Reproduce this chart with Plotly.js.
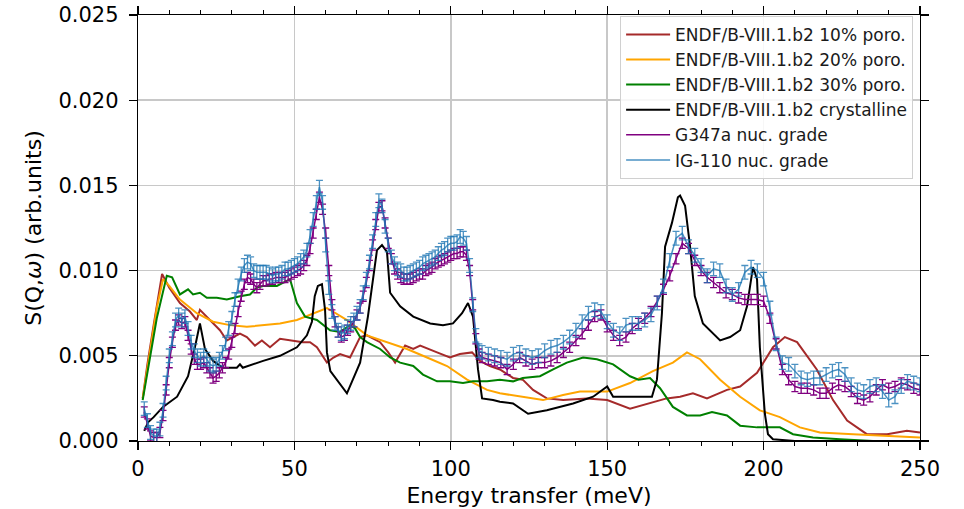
<!DOCTYPE html>
<html>
<head>
<meta charset="utf-8">
<script src="https://cdn.plot.ly/plotly-3.0.1.min.js"></script>
<style>html,body{margin:0;padding:0;background:#fff;}#chart{width:964px;height:509px;}</style>
</head>
<body>
<div id="chart"></div>
<script>
// ---------- Data ----------
const expEnergy = [2,3,4,5,6,7,8,9,10,11,12,13,14,15,16,17,18,19,20,21,22,23,24,25,26,27,28,29,30,
  31,32,33,34,35,36,37,38,39,40,41,42,43,44,45,46,47,48,49,50,51,52,53,54,55,56,57,58,59,60,
  61,62,63,64,65,66,67,68,69,70,71,72,73,74,75,76,77,78,79,80,81,82,83,84,85,86,87,88,89,90,
  91,92,93,94,95,96,97,98,99,100,101,102,103,104,105,106,107,108,109,110,
  112,114,116,118,120,122,124,126,128,130,132,134,136,138,140,142,144,146,148,150,
  152,154,156,158,160,162,164,166,168,170,172,174,176,178,180,182,184,186,188,190,
  192,194,196,198,200,202,204,206,208,210,212,214,216,218,220,222,224,226,228,230,
  232,234,236,238,240,242,244,246,248,250];

const ig110 = [0.0019,0.0012,0.0005,0.0003,0.0003,0.0007,0.0018,0.0034,0.0050,0.0060,0.0071,0.0074,0.0071,0.0073,0.0066,0.0058,0.0053,0.0050,0.0048,
  0.0050,0.0048,0.0045,0.0044,0.0045,0.0048,0.0052,0.0057,0.0066,0.0072,
  0.0083,0.0091,0.0098,0.0103,0.0105,0.0104,0.0100,0.0099,0.0099,0.0099,
  0.0099,0.0098,0.0097,0.0098,0.0098,0.0099,0.0101,0.0101,0.0102,0.0103,
  0.0104,0.0106,0.0108,0.0112,0.0120,0.0130,0.0140,0.0149,0.0140,0.0115,
  0.0090,0.0076,0.0069,0.0065,0.0063,0.0064,0.0067,0.0069,0.0071,0.0075,
  0.0079,0.0087,0.0095,0.0105,0.0117,0.0130,0.0141,0.0138,0.0126,0.0115,
  0.0108,0.0104,0.0101,0.0100,0.0098,0.0098,0.0099,0.0100,0.0101,0.0102,
  0.0104,0.0105,0.0106,0.0107,0.0108,0.0110,0.0112,0.0113,0.0115,0.0116,
  0.0116,0.0117,0.0120,0.0119,0.0116,0.0103,0.0080,0.0062,0.0053,0.0052,
  0.0051,0.0050,0.0049,0.0048,0.0051,0.0052,0.0050,0.0049,0.0050,0.0053,
  0.0055,0.0056,0.0058,0.0061,0.0065,0.0070,0.0075,0.0077,0.0076,0.0070,
  0.0065,0.0063,0.0068,0.0069,0.0069,0.0071,0.0074,0.0081,0.0091,0.0106,
  0.0119,0.0122,0.0114,0.0109,0.0103,0.0097,0.0101,0.0100,0.0091,0.0086,
  0.0089,0.0099,0.0102,0.0100,0.0095,0.0078,0.0057,0.0046,0.0045,0.0041,
  0.0037,0.0036,0.0037,0.0037,0.0039,0.0041,0.0042,0.0039,0.0033,0.0030,
  0.0029,0.0032,0.0033,0.0029,0.0024,0.0026,0.0032,0.0035,0.0034,0.0033];

const g347a = [0.0017,0.0010,0.0003,0.0002,0.0002,0.0005,0.0015,0.0030,0.0046,0.0058,0.0068,0.0071,0.0069,0.0070,0.0062,0.0054,0.0048,0.0045,0.0045,
  0.0046,0.0043,0.0040,0.0037,0.0038,0.0040,0.0043,0.0046,0.0051,0.0058,
  0.0066,0.0076,0.0085,0.0092,0.0096,0.0095,0.0092,0.0090,0.0092,0.0094,
  0.0094,0.0095,0.0095,0.0096,0.0096,0.0096,0.0096,0.0097,0.0098,0.0099,
  0.0100,0.0101,0.0103,0.0106,0.0113,0.0122,0.0133,0.0143,0.0136,0.0122,
  0.0100,0.0080,0.0070,0.0064,0.0061,0.0062,0.0065,0.0067,0.0070,0.0074,
  0.0078,0.0085,0.0093,0.0103,0.0115,0.0127,0.0137,0.0138,0.0128,0.0116,
  0.0107,0.0101,0.0098,0.0096,0.0095,0.0095,0.0095,0.0096,0.0097,0.0098,
  0.0098,0.0100,0.0101,0.0102,0.0104,0.0105,0.0106,0.0107,0.0108,0.0109,
  0.0110,0.0110,0.0111,0.0111,0.0109,0.0100,0.0080,0.0060,0.0051,0.0049,
  0.0048,0.0047,0.0046,0.0042,0.0045,0.0049,0.0047,0.0045,0.0046,0.0046,
  0.0047,0.0049,0.0052,0.0055,0.0059,0.0063,0.0068,0.0073,0.0074,0.0067,
  0.0062,0.0059,0.0061,0.0066,0.0069,0.0072,0.0076,0.0082,0.0089,0.0097,
  0.0107,0.0116,0.0113,0.0106,0.0100,0.0096,0.0093,0.0090,0.0087,0.0086,
  0.0084,0.0083,0.0083,0.0083,0.0082,0.0072,0.0057,0.0042,0.0036,0.0032,
  0.0031,0.0031,0.0030,0.0028,0.0028,0.0031,0.0033,0.0032,0.0029,0.0025,
  0.0024,0.0026,0.0030,0.0033,0.0031,0.0032,0.0034,0.0033,0.0031,0.0030];

const ig110Err = 0.0004;
const g347aErr = 0.0003;

const poro10E = [1.5,3,5,7.7,10,13.4,16.6,18.8,19.8,23,26.2,28.4,30.4,32.6,34.8,37.4,39.6,42.2,45.4,48.6,52.7,55,57.2,60.4,62.5,64.6,67.8,71,73.2,77.4,80,82.2,85.4,88,90.2,95.6,99.7,102.9,106.8,109.3,112.5,115.7,119.9,123,126.3,130.7,135.9,143.5,150,157.3,164.6,169,173.3,177.4,181.9,188.3,192.5,197.9,203,206.8,210.7,217,222.2,226.7,233,239.5,245.8,250];
const poro10S = [0.0025,0.0045,0.0068,0.0098,0.0090,0.0081,0.0076,0.0071,0.0077,0.0071,0.0065,0.0059,0.0061,0.0063,0.0061,0.0056,0.0059,0.0055,0.0060,0.0059,0.0058,0.0058,0.0055,0.0046,0.0049,0.0051,0.0049,0.0061,0.0062,0.0058,0.0052,0.0046,0.0056,0.0054,0.0056,0.0052,0.0049,0.0051,0.0052,0.0047,0.0044,0.0042,0.0037,0.0036,0.0030,0.0025,0.0024,0.0025,0.0024,0.0019,0.0023,0.0025,0.0026,0.0028,0.0025,0.0030,0.0032,0.0040,0.0055,0.0061,0.0058,0.0042,0.0024,0.0012,0.0004,0.0004,0.0006,0.0005];

const poro20E = [1.5,4,6,8,10,13.4,18.8,24,29.4,34.8,40,45.4,50.8,56,60.4,62.3,66.8,73.2,79.6,86,92.4,98.8,105.2,111.6,115.7,122.1,129.5,135.9,141.3,150,157.3,164.6,171,175.5,179.7,186.1,192.5,198.8,205.2,211.6,218,228.6,241.4,250];
const poro20S = [0.0025,0.0055,0.0078,0.0095,0.0091,0.0083,0.0075,0.0070,0.0068,0.0067,0.0068,0.0069,0.0071,0.0075,0.0078,0.0076,0.0071,0.0062,0.0058,0.0054,0.0049,0.0044,0.0036,0.0030,0.0028,0.0026,0.0024,0.0027,0.0029,0.0029,0.0034,0.0041,0.0046,0.0052,0.0048,0.0036,0.0026,0.0018,0.0014,0.0008,0.0005,0.0004,0.0003,0.0002];

const poro30E = [1.5,4,6,9.2,10.9,13.4,16,17.6,19.8,22,25.2,28.4,32.6,35.8,38,40,44.4,48.6,50.8,53.4,57.2,61.4,64.6,67.8,69.4,71,73.2,77.4,80.6,83.8,88,91.1,95.6,99.7,103.9,107.1,111.6,115.7,119.9,123,128.5,132.7,137.1,142.3,146.7,151.9,157.3,160,163.7,166.9,171,175.5,179.7,183.5,188.3,192.5,197.9,201.1,205.2,209.4,215.8,224.4,235,250];
const poro30S = [0.0024,0.0050,0.0072,0.0097,0.0096,0.0086,0.0089,0.0086,0.0087,0.0084,0.0084,0.0083,0.0085,0.0086,0.0090,0.0091,0.0091,0.0095,0.0081,0.0073,0.0071,0.0065,0.0064,0.0068,0.0066,0.0061,0.0058,0.0054,0.0049,0.0046,0.0044,0.0039,0.0035,0.0035,0.0034,0.0035,0.0035,0.0036,0.0035,0.0037,0.0038,0.0042,0.0046,0.0049,0.0048,0.0045,0.0038,0.0036,0.0037,0.0031,0.0020,0.0015,0.0015,0.0017,0.0015,0.0009,0.0008,0.0008,0.0008,0.0004,0.0002,0.0001,0.0000,0.0000];

const crystE = [2,3.2,5,8,12.5,16,18.2,19.8,21.4,24,27.2,31.6,32.6,33.5,40,45.4,50.8,54,55.6,56.5,57.5,58.8,59.8,60.4,61.5,66.8,71,73.5,76.4,78,79.6,80.6,83.8,88,93.4,97.5,100.7,103.6,105.5,107.1,108.7,110,113.5,115.7,119.9,124.7,130.7,139.1,145.5,150,151.9,158.2,164.3,165.9,167.5,168.5,170.7,172.6,173.3,174.9,176.5,178,180.6,186.1,189.3,192.5,194.7,196.6,197.9,198.8,200.4,201.4,203,210,250];
const crystS = [0.0006,0.0011,0.0014,0.0020,0.0026,0.0038,0.0055,0.0069,0.0054,0.0047,0.0043,0.0043,0.0045,0.0043,0.0047,0.0050,0.0055,0.0062,0.0070,0.0085,0.0091,0.0092,0.0077,0.0052,0.0041,0.0028,0.0046,0.0073,0.0112,0.0115,0.0111,0.0087,0.0079,0.0073,0.0069,0.0068,0.0069,0.0075,0.0081,0.0073,0.0042,0.0025,0.0024,0.0023,0.0022,0.0016,0.0018,0.0022,0.0026,0.0032,0.0026,0.0026,0.0026,0.0036,0.0075,0.0114,0.0128,0.0143,0.0144,0.0138,0.0114,0.0085,0.0069,0.0059,0.0061,0.0065,0.0079,0.0102,0.0095,0.0055,0.0016,0.0004,0.0001,0.0000,0.0000];

const seriesNames = ['ENDF/B-VIII.1.b2 10% poro.','ENDF/B-VIII.1.b2 20% poro.','ENDF/B-VIII.1.b2 30% poro.','ENDF/B-VIII.1.b2 crystalline','G347a nuc. grade','IG-110 nuc. grade'];
const xTickVals = [0,50,100,150,200,250];
const yTickVals = [0,0.005,0.010,0.015,0.020,0.025];

// ---------- Plot ----------
const FONT = 'DejaVu Sans, sans-serif';
function modelTrace(x, y, name, color, grp) {
  return {x: x, y: y, name: name, legendgroup: grp, type: 'scatter', mode: 'lines',
          line: {color: color, width: 2}, hoverinfo: 'skip'};
}
function expTrace(x, y, err, name, color, grp) {
  return {x: x, y: y, name: name, legendgroup: grp, type: 'scatter', mode: 'lines',
          line: {color: color, width: 1.5},
          error_y: {type: 'constant', value: err, visible: true, color: color, thickness: 1.3, width: 3.5},
          hoverinfo: 'skip'};
}

const traces = [
  modelTrace(poro10E, poro10S, seriesNames[0], '#a52a2a', 'g1'),
  modelTrace(poro20E, poro20S, seriesNames[1], '#ffa500', 'g2'),
  modelTrace(poro30E, poro30S, seriesNames[2], '#008000', 'g3'),
  modelTrace(crystE, crystS, seriesNames[3], '#000000', 'g4'),
  expTrace(expEnergy, g347a, g347aErr, seriesNames[4], '#800080', 'g5'),
  expTrace(expEnergy, ig110, ig110Err, seriesNames[5], 'rgba(31,119,180,0.8)', 'g6')
];

const layout = {
  width: 964, height: 509,
  margin: {l: 138, r: 44, t: 15, b: 68},
  paper_bgcolor: '#ffffff', plot_bgcolor: '#ffffff',
  font: {family: FONT, color: '#000', size: 21},
  showlegend: true,
  legend: {x: 0.6165, y: 0.998, xanchor: 'left', yanchor: 'top',
           bgcolor: 'rgba(255,255,255,0.85)', bordercolor: '#d0d0d0', borderwidth: 1,
           font: {family: FONT, size: 17, color: '#1a1a1a'}, tracegroupgap: 2,
           itemwidth: 44, traceorder: 'normal'},
  xaxis: {
    range: [0, 250], tickvals: xTickVals, ticktext: xTickVals.map(String),
    showline: true, linecolor: '#000', linewidth: 1.3, mirror: 'allticks',
    ticks: 'outside', ticklen: 8, tickwidth: 1.3, tickcolor: '#000',
    showgrid: true, gridcolor: '#c8c8c8', gridwidth: 1.5, zeroline: false,
    minor: {dtick: 10, ticks: 'outside', ticklen: 4, tickwidth: 1, tickcolor: '#000', showgrid: false},
    tickfont: {size: 21, family: FONT},
    title: {text: 'Energy transfer (meV)', font: {size: 22, family: FONT}, standoff: 8}
  },
  yaxis: {
    range: [0, 0.025], tickvals: yTickVals, tickformat: '.3f',
    showline: true, linecolor: '#000', linewidth: 1.3, mirror: 'allticks',
    ticks: 'outside', ticklen: 8, tickwidth: 1.3, tickcolor: '#000',
    ticklabelstandoff: 6,
    showgrid: true, gridcolor: '#c8c8c8', gridwidth: 1.5, zeroline: false,
    tickfont: {size: 21, family: FONT},
    title: {text: 'S(Q,<i>ω</i>) (arb.units)', font: {size: 22, family: FONT}, standoff: 10}
  }
};

Plotly.newPlot('chart', traces, layout, {staticPlot: true, displayModeBar: false});
</script>
</body>
</html>
